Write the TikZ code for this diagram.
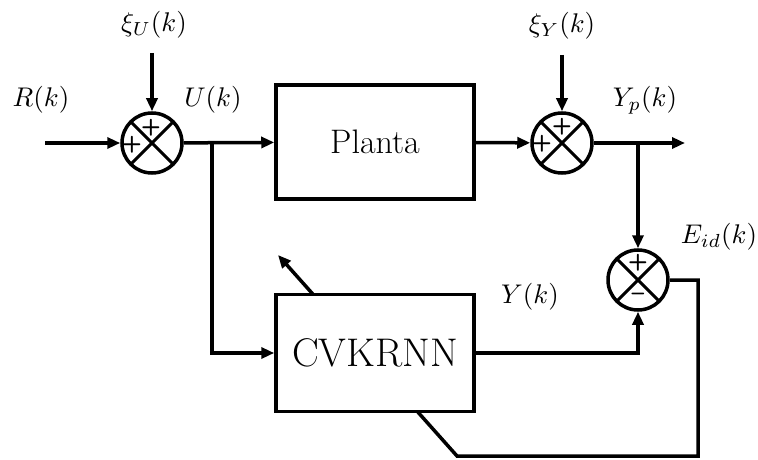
\documentclass[tikz,border=0pt]{standalone}
\usetikzlibrary{arrows.meta,backgrounds}
\begin{document}
\begin{tikzpicture}[x=1pt,y=1pt, line width=3.5pt,
    >={Triangle[length=13pt,width=11pt]},
    sumnode/.style={circle, draw, fill=white, minimum size=60pt, inner sep=0pt,
      path picture={\draw[line width=3pt]
        (path picture bounding box.north west) -- (path picture bounding box.south east)
        (path picture bounding box.north east) -- (path picture bounding box.south west);}},
    block/.style={rectangle, draw, fill=white, inner sep=0pt},
    sgn/.style={font=\sffamily\bfseries, scale=2.3, inner sep=0pt},
    lbl/.style={scale=2.7}]

    \useasboundingbox (0,0) rectangle (758,459);

    % Free ends and branch points
    \coordinate (in) at (45,316);
    \coordinate (xiU) at (152,406);
    \coordinate (xiY) at (562,404);
    \coordinate (out) at (685,316);
    \coordinate (ubr) at (212,316);
    \coordinate (ybr) at (638,316);
    \coordinate (e1) at (698,179);
    \coordinate (e2) at (698,3);
    \coordinate (e3) at (457,3);
    \coordinate (adapt) at (278,204);

    % Summing junctions and blocks
    \node[sumnode] (s1) at (152,316) {};
    \node[sumnode] (s2) at (562,316) {};
    \node[sumnode] (s3) at (638,179) {};
    \node[block, minimum width=198pt, minimum height=114pt,
          font=\fontsize{34}{34}\selectfont] (plant) at (375,317) {Planta};
    \node[block, minimum width=198pt, minimum height=117pt,
          font=\fontsize{40}{40}\selectfont] (cvk) at (375,106) {CVKRNN};

    % Signs
    \node[sgn] at ([shift={(-1,15)}]s1.center) {+};
    \node[sgn] at ([shift={(-20,-2)}]s1.center) {+};
    \node[sgn] at ([shift={(0,16)}]s2.center) {+};
    \node[sgn] at ([shift={(-20,-1)}]s2.center) {+};
    \node[sgn] at ([shift={(0,17)}]s3.center) {+};
    \node[sgn] at ([shift={(0,-17)}]s3.center) {--};

    % Signals
    \draw[->] (in) -- (s1);
    \draw[->] (xiU) -- (s1);
    \draw[->] (s1) -- (plant);
    \draw[->] (plant) -- (s2);
    \draw[->] (xiY) -- (s2);
    \draw[->] (s2) -- (out);
    \draw[->] (ybr) -- (s3);
    \draw[->] (ubr) |- (cvk);
    \draw[->] (cvk) -| (s3);

    % Error fed back through the network (adaptation arrow)
    \begin{scope}[on background layer]
        \draw[line width=3.5pt, -{Triangle[length=13pt,width=11pt]}]
            (s3) -- (e1) -- (e2) -- (e3) -- (adapt);
    \end{scope}

    % Labels
    \node[lbl] at (41,359) {$R(k)$};
    \node[lbl] at (154,434) {$\xi_U(k)$};
    \node[lbl] at (213,359) {$U(k)$};
    \node[lbl] at (562,433) {$\xi_Y(k)$};
    \node[lbl] at (645,359) {$Y_p(k)$};
    \node[lbl] at (719,222) {$E_{id}(k)$};
    \node[lbl] at (530,162) {$Y(k)$};

\end{tikzpicture}
\end{document}
